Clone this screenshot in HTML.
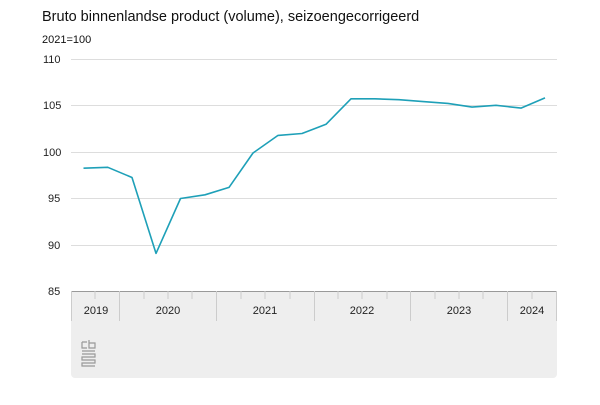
<!DOCTYPE html>
<html><head><style>
body{margin:0;background:#fff;width:600px;height:400px;overflow:hidden;font-family:"Liberation Sans",sans-serif}
</style></head><body>
<svg width="600" height="400" xmlns="http://www.w3.org/2000/svg" font-family="Liberation Sans, sans-serif">
<text x="42" y="21" font-size="14.5" fill="#111">Bruto binnenlandse product (volume), seizoengecorrigeerd</text>
<text x="42" y="43" font-size="11" fill="#111">2021=100</text>
<rect x="71" y="291" width="486" height="87" rx="4" fill="#eee"/>
<g stroke="#ddd" stroke-width="1">
<line x1="71" x2="557" y1="59.5" y2="59.5"/>
<line x1="71" x2="557" y1="105.5" y2="105.5"/>
<line x1="71" x2="557" y1="152.5" y2="152.5"/>
<line x1="71" x2="557" y1="198.5" y2="198.5"/>
<line x1="71" x2="557" y1="245.5" y2="245.5"/>
</g>
<line x1="71" x2="557" y1="291.5" y2="291.5" stroke="#999"/>
<g font-size="11" fill="#222">
<text x="43" y="63">110</text><text x="43" y="109">105</text><text x="43" y="156">100</text>
<text x="48" y="202">95</text><text x="48" y="249">90</text><text x="48" y="295">85</text>
</g>
<g stroke="#ccc" stroke-width="1">
<line x1="71.5" x2="71.5" y1="291" y2="321"/>
<line x1="119.5" x2="119.5" y1="291" y2="321"/>
<line x1="216.5" x2="216.5" y1="291" y2="321"/>
<line x1="314.5" x2="314.5" y1="291" y2="321"/>
<line x1="410.5" x2="410.5" y1="291" y2="321"/>
<line x1="507.5" x2="507.5" y1="291" y2="321"/>
<line x1="556.5" x2="556.5" y1="291" y2="321"/>
<line x1="95" x2="95" y1="291" y2="299"/>
<line x1="144" x2="144" y1="291" y2="299"/><line x1="168" x2="168" y1="291" y2="299"/><line x1="192" x2="192" y1="291" y2="299"/>
<line x1="241" x2="241" y1="291" y2="299"/><line x1="265" x2="265" y1="291" y2="299"/><line x1="290" x2="290" y1="291" y2="299"/>
<line x1="338" x2="338" y1="291" y2="299"/><line x1="362" x2="362" y1="291" y2="299"/><line x1="387" x2="387" y1="291" y2="299"/>
<line x1="435" x2="435" y1="291" y2="299"/><line x1="459" x2="459" y1="291" y2="299"/><line x1="483" x2="483" y1="291" y2="299"/>
<line x1="532" x2="532" y1="291" y2="299"/>
</g>
<g font-size="11" fill="#222" text-anchor="middle">
<text x="96" y="314">2019</text><text x="168" y="314">2020</text><text x="265" y="314">2021</text>
<text x="362" y="314">2022</text><text x="459" y="314">2023</text><text x="532" y="314">2024</text>
</g>
<g fill="none" stroke="#999" stroke-width="1.2">
<path d="M82 342h5M82 342v6h5M89 340v8h6v-5h-6M82 351h13M82 354h13v3H82v3h13v3H82v3h13"/>
</g>
<polyline fill="none" stroke="#1ea0b8" stroke-width="1.6" stroke-linejoin="round" points="83.5,168.2 107.8,167.3 132,177.5 156,253.4 180.5,198.5 205,194.8 229,187.4 253,153 278,135.4 302,133.5 326,124.3 351,98.8 375,98.8 399,99.7 423,101.6 448,103.4 472,107.1 496,105.3 521,108.1 545,97.9"/>
</svg>
</body></html>
